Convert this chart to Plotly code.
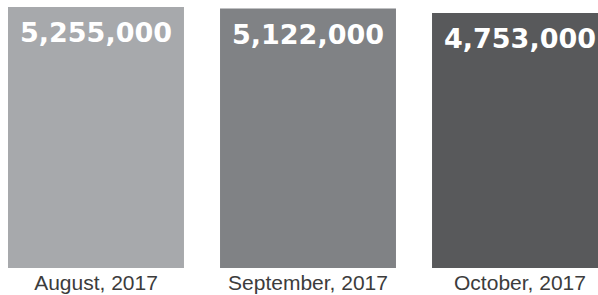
import math
import plotly.graph_objects as go

months = ["August, 2017", "September, 2017", "October, 2017"]
values = [5255000, 5122000, 4753000]
colors = ["#A7A9AC", "#808285", "#58595B"]
value_labels = [f"{v:,}" for v in values]

fig = go.Figure(
    go.Bar(
        x=months,
        y=values,
        marker=dict(color=colors, line=dict(width=0)),
        hoverinfo="skip",
    )
)

for m, v, t in zip(months, values, value_labels):
    fig.add_annotation(
        x=m,
        y=math.log10(v),
        text=t,
        showarrow=False,
        yanchor="top",
        xanchor="center",
        yshift=-8,
        font=dict(family="DejaVu Sans", size=27, color="white", weight="bold"),
    )

fig.update_layout(
    width=598,
    height=295,
    margin=dict(l=0, r=0, t=0, b=27),
    paper_bgcolor="white",
    plot_bgcolor="white",
    bargap=0.17,
    showlegend=False,
    xaxis=dict(
        type="category",
        range=[-0.4528, 2.3679],
        showgrid=False,
        zeroline=False,
        showline=False,
        ticks="",
        tickfont=dict(family="Liberation Sans", size=21, color="#3c3c3c"),
        fixedrange=True,
    ),
    yaxis=dict(
        type="log",
        range=[4.8238, 6.7715],
        visible=False,
        showgrid=False,
        fixedrange=True,
    ),
)

fig.write_html(
    "out.html",
    config={"displayModeBar": False},
    post_script="document.body.style.margin='0';document.body.style.overflow='hidden';",
)
